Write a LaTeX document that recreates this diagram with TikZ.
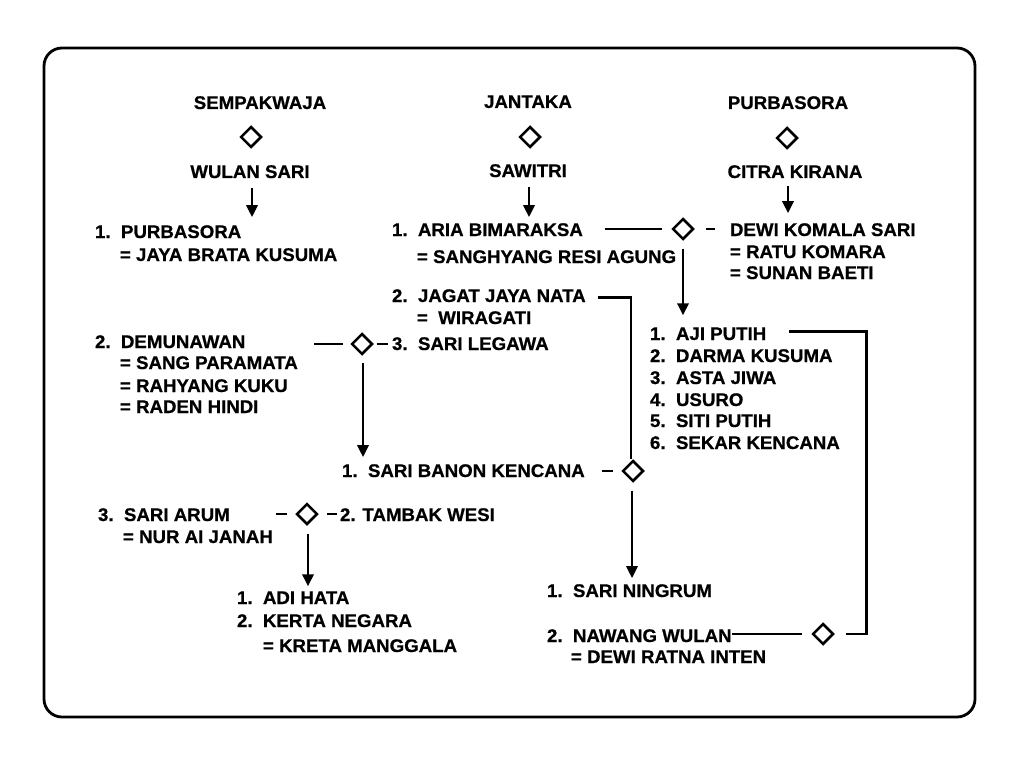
\documentclass[tikz,border=0pt]{standalone}
\usepackage{fontspec}
\setmainfont{Liberation Sans Bold}
\newfontfamily\diagfont{Liberation Sans Bold}[FakeBold=0.7,FakeStretch=1.02]
\usetikzlibrary{shapes.geometric,arrows.meta,calc}
\newcommand{\nmb}[2]{\makebox[26pt][l]{#1}#2}
\begin{document}
\begin{tikzpicture}[x=1pt,y=-1pt,
  txt/.style={anchor=base west,inner sep=0pt,outer sep=0pt,font=\diagfont\fontsize{18.3}{22}\selectfont},
  ctxt/.style={txt,anchor=base},
  dia/.style={diamond,draw,line width=2.5pt,minimum width=21pt,minimum height=21pt,inner sep=0pt,aspect=1},
  ln/.style={line width=2.8pt},
  arr/.style={line width=2.8pt,-{Triangle[length=12pt,width=11pt]}}]
\fill[white] (0,0) rectangle (1024,762);
\useasboundingbox (0,0) rectangle (1024,762);
\draw[line width=2.8pt,rounded corners=18pt] (44,48) rectangle (975,717);

% top row
\node[ctxt] (semp) at (260,109) {SEMPAKWAJA};
\node[dia] (d1) at (251,137) {};
\node[ctxt] (ws) at (250,178) {WULAN SARI};
\node[ctxt] (jan) at (528,108) {JANTAKA};
\node[dia] (d2) at (530,137) {};
\node[ctxt] (saw) at (528,177) {SAWITRI};
\node[ctxt] (purb) at (788,109) {PURBASORA};
\node[dia] (d3) at (787,138) {};
\node[ctxt] (citra) at (795,178) {CITRA KIRANA};

% left column
\node[txt] (p1) at (95,238) {\nmb{1.}{PURBASORA}};
\node[txt] (p1b) at (120,261) {= JAYA BRATA KUSUMA};
\node[txt] (dem) at (95,348) {\nmb{2.}{DEMUNAWAN}};
\node[txt] (sp) at (120,369) {= SANG PARAMATA};
\node[txt] (rkk) at (120,392) {= RAHYANG KUKU};
\node[txt] (rh) at (120,413) {= RADEN HINDI};
\node[txt] (sa) at (98,521) {\nmb{3.}{SARI ARUM}};
\node[txt] (naj) at (123,543) {= NUR AI JANAH};

% middle column
\node[txt] (ab) at (392,236) {\nmb{1.}{ARIA BIMARAKSA}};
\node[txt] (abb) at (417,263) {= SANGHYANG RESI AGUNG};
\node[txt] (jj) at (392,302) {\nmb{2.}{JAGAT JAYA NATA}};
\node[txt] (wir) at (417,324) {=\ \ WIRAGATI};
\node[txt] (sl) at (392,350) {\nmb{3.}{SARI LEGAWA}};
\node[txt] (sbk) at (342,477) {\nmb{1.}{SARI BANON KENCANA}};
\node[txt] (tw) at (340,521) {2. TAMBAK WESI};
\node[txt] (adi) at (237,604) {\nmb{1.}{ADI HATA}};
\node[txt] (kn) at (237,627) {\nmb{2.}{KERTA NEGARA}};
\node[txt] (km) at (263,652) {= KRETA MANGGALA};
\node[txt] (sn) at (547,597) {\nmb{1.}{SARI NINGRUM}};
\node[txt] (nw) at (547,642) {\nmb{2.}{NAWANG WULAN}};
\node[txt] (dri) at (571,663) {= DEWI RATNA INTEN};

% right column
\node[txt] (dks) at (730,236) {DEWI KOMALA SARI};
\node[txt] (rk) at (730,258) {= RATU KOMARA};
\node[txt] (sbt) at (730,279) {= SUNAN BAETI};
\node[txt] (aji) at (650,340) {\nmb{1.}{AJI PUTIH}};
\node[txt] (dk) at (650,362) {\nmb{2.}{DARMA KUSUMA}};
\node[txt] (aj) at (650,384) {\nmb{3.}{ASTA JIWA}};
\node[txt] (us) at (650,406) {\nmb{4.}{USURO}};
\node[txt] (stp) at (650,427) {\nmb{5.}{SITI PUTIH}};
\node[txt] (sk) at (650,449) {\nmb{6.}{SEKAR KENCANA}};

% diamonds
\node[dia] (d4) at (683,229) {};
\node[dia] (d5) at (362,344) {};
\node[dia] (d6) at (633,471) {};
\node[dia] (d7) at (823,634) {};
\node[dia] (d8) at (307,514) {};

% arrows from top couples
\draw[arr] ($(ws.south)+(2,10)$) -- ($(ws.south |- p1.north)+(2,-8)$);
\draw[arr] ($(saw.south)+(1,10)$) -- ($(saw.south |- ab.north)+(1,-6)$);
\draw[arr] ($(citra.south)+(-7,8)$) -- ($(citra.south |- dks.north)+(-7,-10)$);

% Aria Bimaraksa - Dewi Komala Sari
\draw[ln] ($(ab.east |- d4.west)+(22,0)$) -- ($(d4.west)+(-9,0)$);
\draw[ln] ($(d4.east)+(11,0)$) -- ($(dks.west |- d4.east)+(-15,0)$);
\draw[arr] ($(d4.south)+(0,8)$) -- ($(d4.south |- aji.north)+(0,-12)$);

% Demunawan - Sari Legawa
\draw[ln] ($(d5.west)+(-36,0)$) -- ($(d5.west)+(-7,0)$);
\draw[ln] ($(d5.east)+(3,0)$) -- ($(sl.west |- d5.east)+(-4,0)$);
\draw[arr] ($(d5.south)+(1,7)$) -- ($(d5.south |- sbk.north)+(1,-7)$);

% Sari Banon Kencana - Jagat Jaya Nata
\draw[ln] ($(sbk.east |- d6.west)+(17,0)$) -- ($(d6.west)+(-8,0)$);
\draw[ln] ($(jj.east)+(12,2)$) -| ($(d6.north)+(-2,0)$);
\draw[arr] ($(d6.south)+(-1,8)$) -- ($(d6.south |- sn.north)+(-1,-6)$);

% Nawang Wulan - Aji Putih
\draw[ln] (nw.east |- d7.west) -- ($(d7.west)+(-9,0)$);
\draw[ln] ($(aji.east)+(23,-2)$) -| ($(d7.east)+(32,0)$) -- ($(d7.east)+(11,0)$);

% Sari Arum - Tambak Wesi
\draw[ln] ($(d8.west)+(-19,0)$) -- ($(d8.west)+(-8,0)$);
\draw[ln] ($(d8.east)+(8,0)$) -- ($(tw.west |- d8.east)+(-3,0)$);
\draw[arr] ($(d8.south)+(1,8)$) -- ($(d8.south |- adi.north)+(1,-5)$);
\end{tikzpicture}
\end{document}
